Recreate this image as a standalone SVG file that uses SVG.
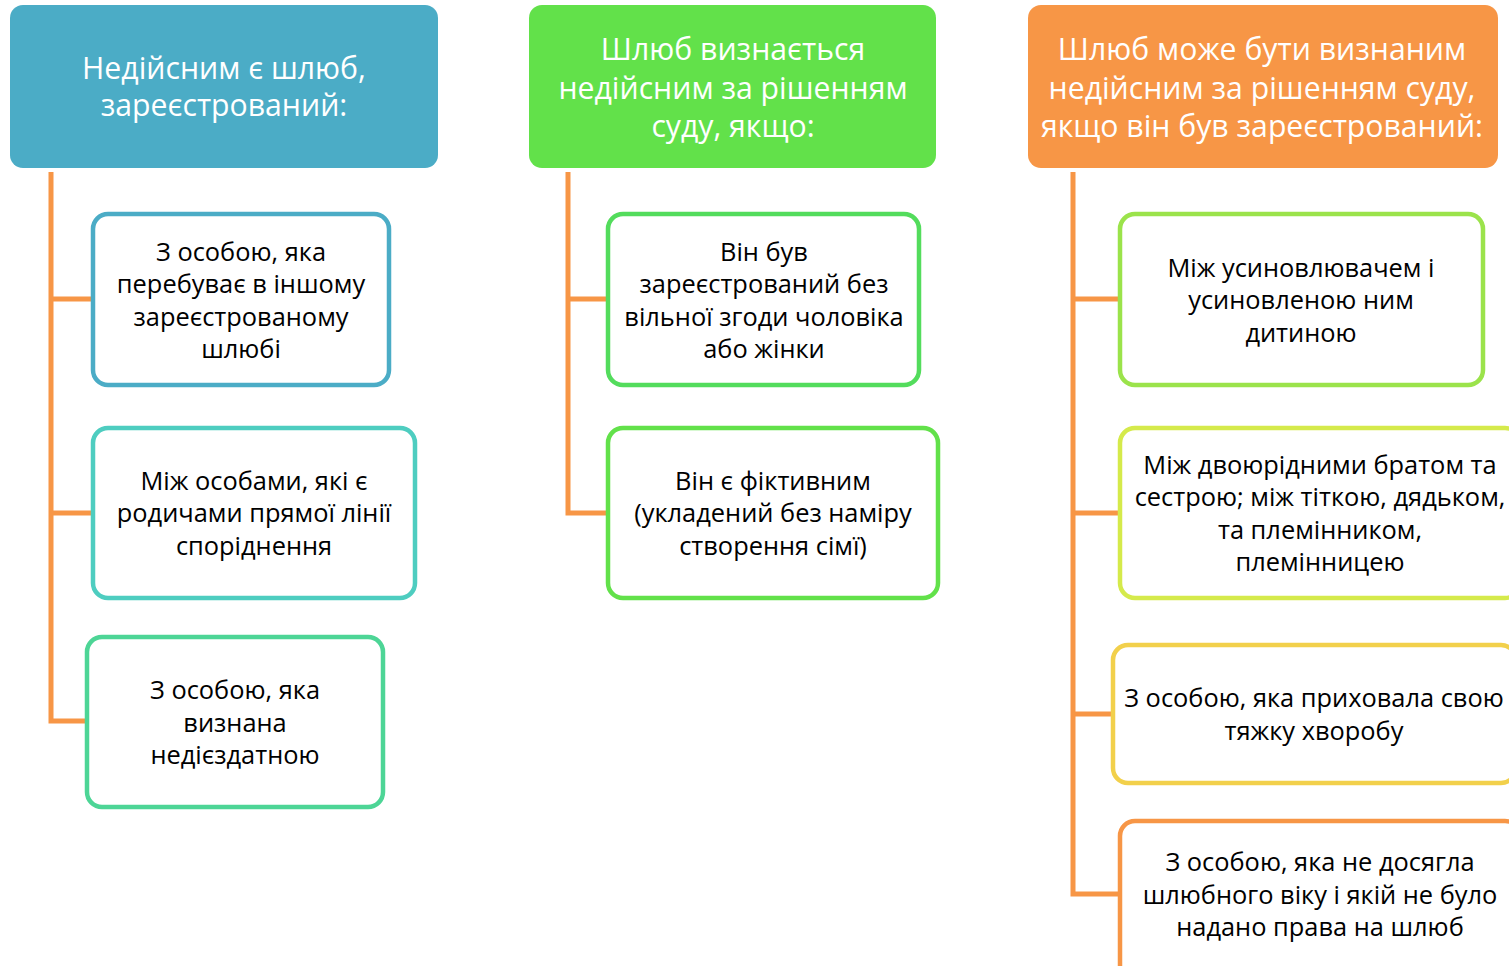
<svg xmlns="http://www.w3.org/2000/svg" width="1509" height="966" viewBox="0 0 1509 966">
<style>
text{font-family:"Open Sans","Noto Sans","DejaVu Sans",sans-serif;text-anchor:middle;dominant-baseline:central}
.h{fill:#fff;font-size:30.2px}
.b{fill:#000;font-size:25.4px}
.box{fill:#fff;stroke-width:4.5}
.conn{fill:none;stroke:#F79646;stroke-width:5}
</style>
<rect width="1509" height="966" fill="#fff"/>
<g id="connectors">
<path class="conn" d="M51 172V721H87M51 299H93M51 513H93"/>
<path class="conn" d="M568 172V513H608M568 299H608"/>
<path class="conn" d="M1073 172V894H1120M1073 299H1120M1073 513H1120M1073 714H1113"/>
</g>
<g id="h1">
<rect x="10" y="5" width="428" height="163" rx="13" fill="#4BACC6"/>
<text class="h" x="224" y="67">Недійсним є шлюб,</text>
<text class="h" x="224" y="104">зареєстрований:</text>
</g>
<g id="h2">
<rect x="529" y="5" width="407" height="163" rx="13" fill="#62E14A"/>
<text class="h" x="733" y="48">Шлюб визнається</text>
<text class="h" x="733" y="87">недійсним за рішенням</text>
<text class="h" x="733" y="125">суду, якщо:</text>
</g>
<g id="h3">
<rect x="1028" y="5" width="470" height="163" rx="13" fill="#F79646"/>
<text class="h" x="1262" y="48">Шлюб може бути визнаним</text>
<text class="h" x="1262" y="87">недійсним за рішенням суду,</text>
<text class="h" x="1262" y="125">якщо він був зареєстрований:</text>
</g>
<g id="n1">
<rect class="box" x="93" y="214" width="296" height="171" rx="15" stroke="#4BACC6"/>
<text class="b" x="241" y="251">З особою, яка</text>
<text class="b" x="241" y="283">перебуває в іншому</text>
<text class="b" x="241" y="316">зареєстрованому</text>
<text class="b" x="241" y="348">шлюбі</text>
</g>
<g id="n2">
<rect class="box" x="93" y="428" width="322" height="170" rx="15" stroke="#4ECDC0"/>
<text class="b" x="254" y="480">Між особами, які є</text>
<text class="b" x="254" y="512">родичами прямої лінії</text>
<text class="b" x="254" y="545">споріднення</text>
</g>
<g id="n3">
<rect class="box" x="87" y="637" width="296" height="170" rx="15" stroke="#4DD596"/>
<text class="b" x="235" y="689">З особою, яка</text>
<text class="b" x="235" y="722">визнана</text>
<text class="b" x="235" y="754">недієздатною</text>
</g>
<g id="n4">
<rect class="box" x="608" y="214" width="311" height="171" rx="15" stroke="#53DC5C"/>
<text class="b" x="764" y="251">Він був</text>
<text class="b" x="764" y="283">зареєстрований без</text>
<text class="b" x="764" y="316">вільної згоди чоловіка</text>
<text class="b" x="764" y="348">або жінки</text>
</g>
<g id="n5">
<rect class="box" x="608" y="428" width="330" height="170" rx="15" stroke="#62E14A"/>
<text class="b" x="773" y="480">Він є фіктивним</text>
<text class="b" x="773" y="512">(укладений без наміру</text>
<text class="b" x="773" y="545">створення сімї)</text>
</g>
<g id="n6">
<rect class="box" x="1120" y="214" width="363" height="171" rx="15" stroke="#9BE34B"/>
<text class="b" x="1301" y="267">Між усиновлювачем і</text>
<text class="b" x="1301" y="299">усиновленою ним</text>
<text class="b" x="1301" y="332">дитиною</text>
</g>
<g id="n7">
<rect class="box" x="1120" y="428" width="400" height="170" rx="15" stroke="#D5EA4B"/>
<text class="b" x="1320" y="464">Між двоюрідними братом та</text>
<text class="b" x="1320" y="496">сестрою; між тіткою, дядьком,</text>
<text class="b" x="1320" y="529">та племінником,</text>
<text class="b" x="1320" y="561">племінницею</text>
</g>
<g id="n8">
<rect class="box" x="1113" y="645" width="403" height="138" rx="15" stroke="#F2D04B"/>
<text class="b" x="1314" y="697">З особою, яка приховала свою</text>
<text class="b" x="1314" y="730">тяжку хворобу</text>
</g>
<g id="n9">
<rect class="box" x="1120" y="821" width="400" height="160" rx="15" stroke="#F79646"/>
<text class="b" x="1320" y="861">З особою, яка не досягла</text>
<text class="b" x="1320" y="894">шлюбного віку і якій не було</text>
<text class="b" x="1320" y="926">надано права на шлюб</text>
</g>
</svg>
